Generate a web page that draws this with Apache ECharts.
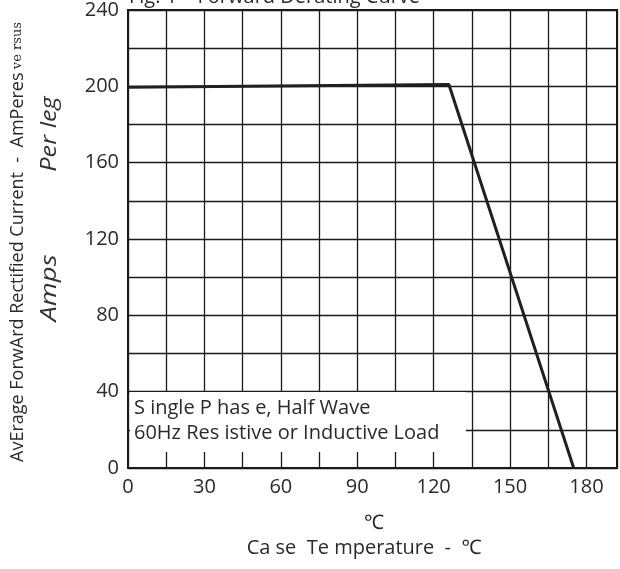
<!DOCTYPE html>
<html>
<head>
<meta charset="utf-8">
<script src="https://cdn.jsdelivr.net/npm/echarts@6/dist/echarts.min.js"></script>
<style>html,body{margin:0;padding:0;background:#fff;}#c{width:620px;height:569px;}</style>
</head>
<body>
<div id="c"></div>
<script>
// Data
const caseTempC = [0, 126, 175];
const currentAmps = [199.5, 201, 0];
const xTickLabels = [0, 30, 60, 90, 120, 150, 180];
const yTickLabels = [0, 40, 80, 120, 160, 200, 240];
const titleText = 'Fig. 1 – Forward Derating Curve';
const noteLines = ['S ingle P has e, Half Wave', '60Hz Res istive or Inductive Load'];
const xName1 = '℃';
const xName2 = 'Ca se  Te mperature  -  ℃';
const yName = 'AvErage ForwArd Rectified Current  -  AmPeres';
const yNameSmall = 've rsus';

const FONT = '"Open Sans", "Noto Sans", sans-serif';
const TXT = '#2a2a2a';
const chart = echarts.init(document.getElementById('c'));
const option = {
  animation: false,
  backgroundColor: '#fff',
  title: {
    text: titleText, left: 124, top: -18,
    textStyle: {fontFamily: FONT, fontSize: 20, fontWeight: 'normal', color: TXT}
  },
  grid: {left: 128, right: 0, top: 7, bottom: 101, show: true, borderColor: '#1a1a1a', borderWidth: 2},
  xAxis: {
    type: 'value', min: 0, max: 192, interval: 15,
    axisLine: {show: true, lineStyle: {color: '#1a1a1a', width: 2}},
    axisTick: {show: false},
    splitLine: {show: true, lineStyle: {color: '#1a1a1a', width: 1.3}},
    axisLabel: {
      margin: 9, fontFamily: FONT, fontSize: 20, color: TXT,
      formatter: v => xTickLabels.indexOf(v) >= 0 ? String(v) : ''
    }
  },
  yAxis: {
    type: 'value', min: 0, max: 240, interval: 20,
    axisLine: {show: true, lineStyle: {color: '#1a1a1a', width: 2}},
    axisTick: {show: false},
    splitLine: {show: true, lineStyle: {color: '#1a1a1a', width: 1.3}},
    axisLabel: {
      margin: 9, fontFamily: FONT, fontSize: 20, color: TXT,
      formatter: v => yTickLabels.indexOf(v) >= 0 ? String(v) : ''
    }
  },
  series: [{
    type: 'line',
    data: caseTempC.map((x, i) => [x, currentAmps[i]]),
    showSymbol: false,
    lineStyle: {color: '#231f20', width: 3},
    z: 5
  }],
  graphic: [
    {type: 'rect', z: 100, shape: {x: 130, y: 392, width: 336, height: 60}, style: {fill: '#fff'}},
    {type: 'text', z: 101, x: 134, y: 408, style: {text: noteLines[0], font: '20px ' + FONT, fill: TXT, verticalAlign: 'middle'}},
    {type: 'text', z: 101, x: 134, y: 433, style: {text: noteLines[1], font: '20px ' + FONT, fill: TXT, verticalAlign: 'middle'}},
    {type: 'text', z: 101, x: 374, y: 523, style: {text: xName1, font: '20px ' + FONT, fill: TXT, align: 'center', verticalAlign: 'middle'}},
    {type: 'text', z: 101, x: 364, y: 548, style: {text: xName2, font: '20px ' + FONT, fill: TXT, align: 'center', verticalAlign: 'middle'}},
    {type: 'text', z: 101, x: 18, y: 242, rotation: Math.PI / 2,
      style: {
        text: '{a|' + yName + '} {b|' + yNameSmall + '}',
        align: 'center', verticalAlign: 'middle',
        rich: {
          a: {fontFamily: FONT, fontSize: 18, fill: TXT, color: TXT},
          b: {fontFamily: '"DejaVu Serif", serif', fontSize: 13, fill: TXT, color: TXT}
        }
      }},
    {type: 'text', z: 101, x: 50, y: 134, rotation: Math.PI / 2, scaleX: 1.2,
      style: {text: 'Per leg', font: 'italic 21px ' + FONT, fill: '#333', align: 'center', verticalAlign: 'middle'}},
    {type: 'text', z: 101, x: 50, y: 288, rotation: Math.PI / 2, scaleX: 1.25,
      style: {text: 'Amps', font: 'italic 22px ' + FONT, fill: '#333', align: 'center', verticalAlign: 'middle'}}
  ]
};
chart.setOption(option);
</script>
</body>
</html>
